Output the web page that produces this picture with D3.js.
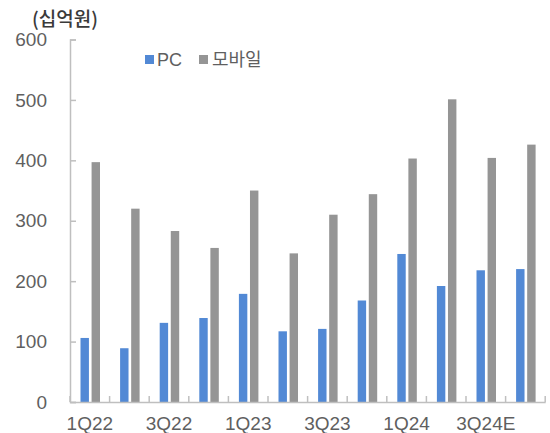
<!DOCTYPE html>
<html><head><meta charset="utf-8">
<script src="https://cdn.jsdelivr.net/npm/d3@7"></script>
<style>body{margin:0;background:#fff}svg{display:block}</style>
</head><body><svg id="c" width="550" height="433"></svg>
<script>
const categories = ["1Q22","2Q22","3Q22","4Q22","1Q23","2Q23","3Q23","4Q23","1Q24","2Q24","3Q24E","4Q24E"];
const seriesNames = ["PC","모바일"];
const pcValues = [106, 89, 131, 139, 179, 117, 121, 168, 245, 192, 218, 220];
const mobileValues = [397, 320, 283, 255, 350, 246, 310, 344, 403, 501, 404, 426];
const yTicks = [0,100,200,300,400,500,600];
const xTickLabels = ["1Q22","3Q22","1Q23","3Q23","1Q24","3Q24E"];
const colors = {"PC":"#5289d5","모바일":"#959595"};
const unitLabel = "(십억원)";

const svg = d3.select("#c");
const mLeft = 70, mRight = 545.2, mTop = 39.5, mBottom = 402;
const x0 = d3.scaleBand().domain(categories).range([mLeft, mRight]).padding(0);
const x1 = d3.scaleBand().domain(seriesNames).range([10.5, 30]).paddingInner(0.24);
const y = d3.scaleLinear().domain([0,600]).range([mBottom, mTop]);
const data = categories.map((c,i)=>({cat:c, vals:[{k:"PC",v:pcValues[i]},{k:"모바일",v:mobileValues[i]}]}));

const axisColor = "#bfbfbf";
const textColor = "#5f5f5f";

// bars
const g = svg.append("g");
g.selectAll("g.grp").data(data).join("g").attr("class","grp")
 .attr("transform", d=>`translate(${x0(d.cat)},0)`)
 .selectAll("rect").data(d=>d.vals).join("rect")
 .attr("x", d=>x1(d.k)).attr("width", x1.bandwidth())
 .attr("y", d=>y(d.v)).attr("height", d=>mBottom - y(d.v))
 .attr("fill", d=>colors[d.k]);

// y axis
const ya = svg.append("g").attr("transform",`translate(${mLeft},0)`)
 .call(d3.axisLeft(y).tickValues(yTicks).tickSize(-6).tickPadding(23));
ya.select(".domain").attr("stroke",axisColor).attr("stroke-width",1.5);
ya.selectAll(".tick line").attr("stroke",axisColor).attr("stroke-width",1.5);
ya.selectAll("text").attr("fill",textColor).style("font-family","'Liberation Sans', Arial, sans-serif").style("font-size","19px");

// x axis
const xa = svg.append("g").attr("transform",`translate(0,${mBottom})`)
 .call(d3.axisBottom(x0).tickValues(xTickLabels).tickSize(0).tickPadding(15));
xa.select(".domain").attr("stroke",axisColor).attr("stroke-width",1.5);
xa.selectAll("text").attr("fill",textColor).style("font-family","'Liberation Sans', Arial, sans-serif").style("font-size","19px");
// category boundary ticks (inside)
const bounds = categories.map(c=>x0(c)).concat([mRight]);
svg.append("g").selectAll("line").data(bounds).join("line")
 .attr("x1",d=>d).attr("x2",d=>d).attr("y1",mBottom).attr("y2",mBottom-6)
 .attr("stroke",axisColor).attr("stroke-width",1.5);

// unit label
svg.append("text").attr("x",32).attr("y",26).text(unitLabel)
 .attr("fill","#3a3a3a").style("font-family","'Noto Sans CJK KR', sans-serif").style("font-size","19px").style("font-weight","500");

// legend
const lg = svg.append("g");
const legendPos = [{k:"PC", sx:145, tx:157},{k:"모바일", sx:199, tx:212}];
legendPos.forEach(p=>{
  lg.append("rect").attr("x",p.sx).attr("y",55).attr("width",9).attr("height",9).attr("fill",colors[p.k]);
  lg.append("text").attr("x",p.tx).attr("y",66).text(p.k).attr("fill",textColor)
   .style("font-family", p.k==="PC" ? "'Liberation Sans', Arial, sans-serif" : "'Noto Sans CJK KR', sans-serif")
   .style("font-size","18px");
});
</script></body></html>
